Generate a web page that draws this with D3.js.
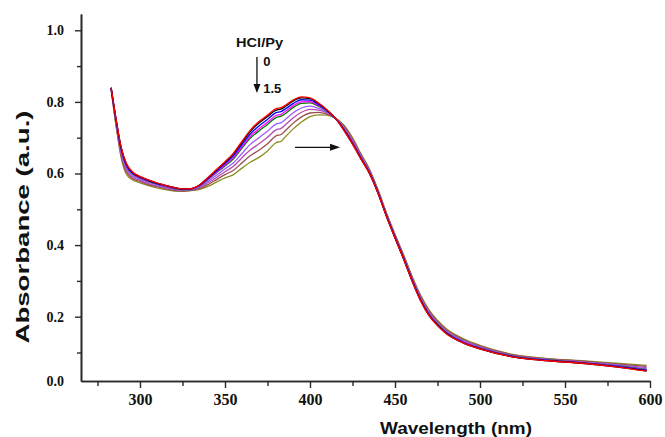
<!DOCTYPE html>
<html><head><meta charset="utf-8">
<script src="https://cdn.jsdelivr.net/npm/d3@7"></script>
<style>
html,body{margin:0;padding:0;background:#fff;}
svg{display:block;}
</style></head>
<body>
<svg id="chart" width="665" height="437"></svg>
<script>
// ---------------- DATA ----------------
const wavelengths = [283,286,289,292,296,300,305,310,315,320,325,330,335,340,345,350,355,360,365,370,375,380,383,386,390,395,400,405,410,415,420,425,430,435,440,445,450,455,460,465,470,475,480,490,500,520,540,560,580,598];

const ratioLabels = ["0", "", "", "", "", "", "", "", "1.5"];

const sRed     = [0.840,0.750,0.672,0.628,0.603,0.592,0.582,0.574,0.567,0.561,0.557,0.558,0.568,0.589,0.611,0.633,0.657,0.690,0.722,0.745,0.763,0.781,0.784,0.792,0.805,0.814,0.811,0.797,0.778,0.754,0.720,0.682,0.640,0.600,0.545,0.480,0.420,0.362,0.300,0.245,0.203,0.175,0.153,0.127,0.110,0.087,0.077,0.070,0.060,0.048];
const sBlack   = [0.840,0.749,0.671,0.627,0.602,0.591,0.581,0.573,0.567,0.561,0.557,0.558,0.568,0.588,0.610,0.631,0.655,0.687,0.718,0.741,0.759,0.777,0.780,0.789,0.802,0.811,0.809,0.796,0.777,0.754,0.721,0.683,0.641,0.600,0.545,0.480,0.420,0.362,0.301,0.246,0.204,0.176,0.154,0.127,0.110,0.087,0.077,0.070,0.060,0.049];
const sBlue    = [0.839,0.748,0.668,0.624,0.600,0.590,0.580,0.572,0.566,0.560,0.556,0.557,0.567,0.586,0.607,0.628,0.650,0.681,0.711,0.733,0.751,0.770,0.773,0.782,0.795,0.806,0.805,0.793,0.776,0.754,0.722,0.684,0.642,0.601,0.546,0.481,0.421,0.363,0.302,0.247,0.205,0.177,0.155,0.128,0.111,0.088,0.078,0.071,0.061,0.050];
const sMagenta = [0.839,0.746,0.666,0.622,0.599,0.588,0.579,0.571,0.565,0.559,0.556,0.557,0.566,0.584,0.604,0.624,0.645,0.675,0.704,0.725,0.743,0.762,0.765,0.775,0.789,0.800,0.801,0.790,0.775,0.754,0.723,0.686,0.643,0.602,0.547,0.482,0.422,0.364,0.303,0.248,0.206,0.178,0.156,0.129,0.112,0.088,0.078,0.071,0.062,0.051];
const sGreen   = [0.839,0.745,0.664,0.620,0.597,0.587,0.578,0.570,0.564,0.558,0.555,0.556,0.565,0.583,0.602,0.621,0.641,0.671,0.699,0.719,0.737,0.756,0.760,0.769,0.784,0.796,0.797,0.788,0.774,0.754,0.724,0.687,0.644,0.603,0.548,0.483,0.423,0.365,0.304,0.249,0.207,0.179,0.157,0.130,0.113,0.089,0.079,0.072,0.063,0.052];
const sViolet  = [0.838,0.741,0.659,0.615,0.593,0.584,0.575,0.568,0.562,0.557,0.554,0.555,0.563,0.578,0.595,0.613,0.630,0.656,0.682,0.700,0.718,0.738,0.742,0.753,0.769,0.783,0.788,0.782,0.771,0.754,0.727,0.690,0.647,0.605,0.550,0.485,0.425,0.367,0.306,0.252,0.210,0.182,0.159,0.132,0.115,0.090,0.080,0.073,0.065,0.055];
const sPurple  = [0.837,0.738,0.653,0.609,0.589,0.581,0.572,0.565,0.560,0.555,0.553,0.554,0.561,0.574,0.589,0.605,0.620,0.644,0.666,0.683,0.701,0.722,0.726,0.738,0.755,0.771,0.779,0.777,0.769,0.754,0.729,0.693,0.649,0.607,0.551,0.486,0.426,0.369,0.309,0.255,0.213,0.184,0.162,0.134,0.116,0.091,0.081,0.074,0.066,0.058];
const sBrown   = [0.836,0.734,0.648,0.604,0.585,0.578,0.569,0.563,0.557,0.553,0.551,0.553,0.558,0.569,0.583,0.597,0.609,0.630,0.650,0.665,0.683,0.705,0.709,0.722,0.740,0.758,0.769,0.771,0.766,0.754,0.732,0.696,0.652,0.610,0.553,0.488,0.428,0.372,0.311,0.258,0.216,0.187,0.164,0.137,0.118,0.093,0.082,0.076,0.068,0.061];
const sOlive   = [0.835,0.730,0.642,0.598,0.581,0.574,0.566,0.560,0.555,0.551,0.550,0.552,0.556,0.564,0.576,0.588,0.597,0.615,0.632,0.645,0.663,0.686,0.690,0.705,0.724,0.744,0.759,0.764,0.763,0.754,0.735,0.700,0.655,0.612,0.555,0.490,0.430,0.374,0.314,0.261,0.219,0.190,0.167,0.139,0.120,0.094,0.083,0.077,0.070,0.064];

const xTickValues = [300,350,400,450,500,550,600];
const xMinorValues = [275,325,375,425,475,525,575];
const yTickValues = [0.2,0.4,0.6,0.8,1.0];
const yMinorValues = [0.1,0.3,0.5,0.7,0.9];

// ---------------- STYLE ----------------
const seriesList = [sOlive,sBrown,sPurple,sViolet,sGreen,sMagenta,sBlue,sBlack,sRed];
const seriesColors = ["#8c8c1e","#9a4e50","#b54cb5","#9a5cff","#007a00","#ff00ff","#0000ff","#000000","#ff0000"];

const svg = d3.select("#chart");
const xDomain = [265.3, 600];
const yDomain = [0.0204, 1.0455];
const x = d3.scaleLinear().domain(xDomain).range([81, 650]);
const y = d3.scaleLinear().domain(yDomain).range([381, 14]);

const axisColor = "#2a2a2a";

// lines
const line = d3.line()
  .x((d,i)=>x(wavelengths[i]))
  .y(d=>y(d))
  .curve(d3.curveMonotoneX);

svg.append("g").selectAll("path")
  .data(seriesList)
  .join("path")
  .attr("d", d=>line(d))
  .attr("fill","none")
  .attr("stroke",(d,i)=>seriesColors[i])
  .attr("stroke-width",1.3)
  .attr("stroke-linejoin","round");

// axes
const xAxis = svg.append("g").attr("transform","translate(0,381)")
  .call(d3.axisBottom(x).tickValues(xTickValues).tickSize(7).tickPadding(6).tickFormat(d3.format("d")).tickSizeOuter(0));
const xMinor = svg.append("g").attr("transform","translate(0,381)")
  .call(d3.axisBottom(x).tickValues(xMinorValues).tickSize(5).tickFormat("").tickSizeOuter(0));
const yAxis = svg.append("g").attr("transform","translate(81,0)")
  .call(d3.axisLeft(y).tickValues([yDomain[0]].concat(yTickValues)).tickSize(6).tickPadding(11).tickFormat(d3.format(".1f")).tickSizeOuter(0));
const yMinor = svg.append("g").attr("transform","translate(81,0)")
  .call(d3.axisLeft(y).tickValues(yMinorValues).tickSize(4).tickFormat("").tickSizeOuter(0));

[xAxis,xMinor,yAxis,yMinor].forEach(g=>{
  g.selectAll("path.domain").attr("stroke",axisColor).attr("stroke-width",1.6);
  g.selectAll(".tick line").attr("stroke",axisColor).attr("stroke-width",1.4);
});
xAxis.selectAll(".tick text").attr("font-family","'Liberation Serif','Times New Roman',serif")
  .attr("font-weight","bold").attr("font-size",16).attr("fill","#111");
yAxis.selectAll(".tick text").attr("font-family","'Liberation Serif','Times New Roman',serif")
  .attr("font-weight","bold").attr("font-size",14).attr("fill","#111");
// hide the zero tick line (coincides with the x axis)
yAxis.selectAll(".tick").filter(d=>d===yDomain[0]).select("line").remove();

// axis titles
svg.append("text")
  .attr("x", 456).attr("y", 434)
  .attr("text-anchor","middle")
  .attr("font-family","'Liberation Sans',Arial,sans-serif")
  .attr("font-weight","bold").attr("font-size",17)
  .attr("textLength",152).attr("lengthAdjust","spacingAndGlyphs")
  .attr("fill","#111")
  .text("Wavelength (nm)");

svg.append("text")
  .attr("transform","translate(29,227) rotate(-90)")
  .attr("text-anchor","middle")
  .attr("font-family","'Liberation Sans',Arial,sans-serif")
  .attr("font-weight","bold").attr("font-size",18)
  .attr("textLength",233).attr("lengthAdjust","spacingAndGlyphs")
  .attr("fill","#111")
  .text("Absorbance (a.u.)");

// annotations
const ann = svg.append("g").attr("font-family","'Liberation Sans',Arial,sans-serif").attr("font-weight","bold").attr("fill","#111");
ann.append("text").attr("x", x(356.5)).attr("y", 47).attr("font-size",13)
  .attr("textLength",47).attr("lengthAdjust","spacingAndGlyphs").text("HCl/Py");
ann.append("text").attr("x", x(372.5)).attr("y", 66).attr("font-size",13).text(ratioLabels[0]);
ann.append("text").attr("x", x(372.5)).attr("y", 93).attr("font-size",13).text(ratioLabels[8]);

// vertical arrow
const ax = x(368.8);
ann.append("line").attr("x1",ax).attr("x2",ax).attr("y1",57).attr("y2",86)
  .attr("stroke","#111").attr("stroke-width",1.3);
ann.append("path").attr("d",`M${ax-3.5},84 L${ax+3.5},84 L${ax},93 Z`).attr("fill","#111");

// horizontal arrow
const hy = y(0.673), hx1 = x(391.2), hx2 = x(417.7);
ann.append("line").attr("x1",hx1).attr("x2",hx2-8).attr("y1",hy).attr("y2",hy)
  .attr("stroke","#111").attr("stroke-width",1.4);
ann.append("path").attr("d",`M${hx2-10},${hy-3.5} L${hx2-10},${hy+3.5} L${hx2},${hy} Z`).attr("fill","#111");
</script>
</body></html>
